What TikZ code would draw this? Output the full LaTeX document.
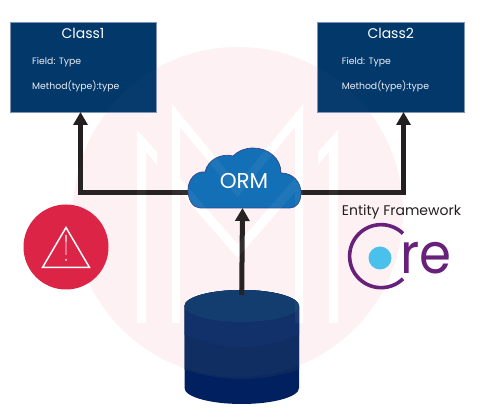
\documentclass[tikz,border=0pt]{standalone}
\usepackage{fontspec}
\setmainfont{Poppins}
\usetikzlibrary{arrows.meta}
\definecolor{boxblue}{HTML}{03386B}
\definecolor{boxedge}{HTML}{7F93B5}
\definecolor{wmpink}{HTML}{FDF1F3}
\definecolor{arrowblack}{HTML}{231F20}
\definecolor{cloudblue}{HTML}{0F6DB5}
\definecolor{cloudedge}{HTML}{2B3F8C}
\definecolor{alertred}{HTML}{DC2446}
\definecolor{dbtop}{HTML}{0E3A6C}
\definecolor{dbtwo}{HTML}{0E2C66}
\definecolor{dbthree}{HTML}{0D2A60}
\definecolor{dbfour}{HTML}{00205F}
\definecolor{corepurple}{HTML}{68217A}
\definecolor{coreblue}{HTML}{4AC0EC}
\newcommand{\fsz}[1]{\fontsize{#1}{#1}\selectfont}
\newcommand{\wmstrokes}{%
  \fill (137,323) -- (146,323) -- (146,152) -- (157,165) -- (157,152) -- (137,130) -- cycle;
  \fill (172,323) -- (180,323) -- (180,127) -- (237.5,197) -- (237.5,184) -- (172,104) -- cycle;
  \fill (180,178) -- (180,192) -- (237.5,258) -- (237.5,244) -- cycle;
  \fill (338,323) -- (329,323) -- (329,152) -- (318,165) -- (318,152) -- (338,130) -- cycle;
  \fill (303,323) -- (295,323) -- (295,127) -- (237.5,197) -- (237.5,184) -- (303,104) -- cycle;
  \fill (295,178) -- (295,192) -- (237.5,258) -- (237.5,244) -- cycle;
}
\tikzset{
  classbox/.style={draw=boxedge,line width=0.5pt,fill=boxblue,minimum width=146.5pt,minimum height=90pt,inner sep=0pt},
  classtitle/.style={text=white,font=\fsz{14}},
  classline/.style={text=white!92!boxblue,font=\fsz{9.3},anchor=west,inner sep=0pt},
  connector/.style={draw=arrowblack,line width=5pt},
  headed/.style={connector,-{Triangle[length=13pt,width=14pt]}},
}
\begin{document}
\begin{tikzpicture}[x=1pt,y=-1pt]
\useasboundingbox (0,0) rectangle (491,414);
\fill[white] (0,0) rectangle (491,414);
% watermark, under everything
\fill[wmpink] (238,212) circle[radius=165pt];
\begin{scope}[white]\wmstrokes\end{scope}
% class boxes
\node[classbox] (class1) at (83.25,67) {};
\node[classbox] (class2) at (390.75,67) {};
\node[classtitle] (class1title) at (83,33.5) {Class1};
\node[classtitle] (class2title) at (390.7,33.5) {Class2};
\node[classline] (class1field) at (32,62) {Field: Type};
\node[classline] (class1method) at (32,86) {Method(type):type};
\node[classline] (class2field) at (341.7,62) {Field: Type};
\node[classline] (class2method) at (341.7,86) {Method(type):type};
% database
\coordinate (dbtopcentre) at (241.7,295);
\begin{scope}
  \clip (184.5,306) arc[start angle=180,end angle=0,x radius=57.25pt,y radius=16pt]
        -- (299,388) arc[start angle=360,end angle=180,x radius=57.25pt,y radius=16pt] -- cycle;
  \fill[dbfour] (180,285) rectangle (303,410);
  \fill[dbthree] (180,285) -- (303,285) -- (303,368) .. controls (280,376) and (260,379) .. (241.7,379) .. controls (223,379) and (203,376) .. (180,368) -- cycle;
  \fill[dbtwo] (180,285) -- (303,285) -- (303,333) .. controls (280,343) and (260,347) .. (241.7,347) .. controls (223,347) and (203,343) .. (180,333) -- cycle;
  \fill[dbtop] (241.7,306) ellipse[x radius=57.25pt,y radius=16pt];
\end{scope}
% connectors
\coordinate (cloudL) at (195,193);
\coordinate (cloudR) at (295,193);
\coordinate (port1) at (80.5,112);
\coordinate (port2) at (403.5,112);
\coordinate (cloudB) at (242.5,208);
\draw[headed] (cloudL) -| (port1);
\draw[headed] (cloudR) -| (port2);
\draw[headed] (dbtopcentre) -- (cloudB);
% cloud
\draw[fill=cloudblue,draw=cloudedge,line width=0.7pt]
  (200,208) -- (290,208)
  .. controls (297,208) and (301,201) .. (301,193)
  .. controls (301,182) and (293,173) .. (281,173)
  .. controls (281,158) and (268,148) .. (253,148)
  .. controls (245,148) and (238,151) .. (233,156)
  .. controls (222,153) and (208,159) .. (205,172)
  .. controls (195,171) and (188,180) .. (188,190)
  .. controls (188,200) and (193,208) .. (200,208) -- cycle;
% watermark veil, over the shapes
\begin{scope}[white,fill opacity=0.02]
  \fill (238,212) circle[radius=165pt];
\end{scope}
\begin{scope}[white,fill opacity=0.05]\wmstrokes\end{scope}
\node[text=white,font=\fsz{21.5},inner sep=0pt] (orm) at (244,181) {ORM};
% alert
\node[circle,fill=alertred,minimum size=85pt,inner sep=0pt] (alert) at (66,247) {};
\draw[white,line width=1.5pt,line join=miter] (66,227.5) -- (42.5,267.5) -- (89.5,267.5) -- cycle;
\fill[white] (65.4,235) -- (66.6,235) -- (66.3,255) -- (65.7,255) -- cycle;
\fill[white] (66,260) circle[radius=1pt];
% Entity Framework Core
\node[anchor=west,inner sep=0pt,text=arrowblack,font=\fsz{14}] (ef) at (341.7,212) {Entity Framework};
\draw[corepurple,line width=3.6pt] (403,233.5) arc[start angle=46,end angle=314,radius=31.5pt];
\fill[coreblue] (380,258) circle[radius=11.5pt];
\node[anchor=base west,inner sep=0pt,text=corepurple,font=\fsz{56}] (re) at (400,274) {\scalebox{0.92}[1]{re}};
\end{tikzpicture}
\end{document}
